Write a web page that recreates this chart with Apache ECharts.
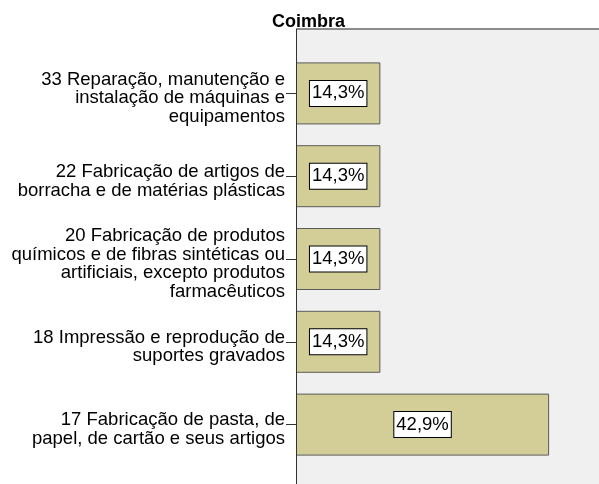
<!DOCTYPE html>
<html>
<head>
<meta charset="utf-8">
<script src="https://cdn.jsdelivr.net/npm/echarts@6/dist/echarts.min.js"></script>
<style>
  html, body { margin: 0; padding: 0; background: #fff; }
  #chart { width: 599px; height: 484px; }
</style>
</head>
<body>
<div id="chart"></div>
<script>
// categorias (de cima para baixo)
var categorias = [
  '33 Reparação, manutenção e\ninstalação de máquinas e\nequipamentos',
  '22 Fabricação de artigos de\nborracha e de matérias plásticas',
  '20 Fabricação de produtos\nquímicos e de fibras sintéticas ou\nartificiais, excepto produtos\nfarmacêuticos',
  '18 Impressão e reprodução de\nsuportes gravados',
  '17 Fabricação de pasta, de\npapel, de cartão e seus artigos'
];
var percentagens = [14.3, 14.3, 14.3, 14.3, 42.9];
var titulo = 'Coimbra';

var fonte = "'Liberation Sans', Arial, sans-serif";
var myChart = echarts.init(document.getElementById('chart'));

myChart.setOption({
  animation: false,
  title: {
    text: titulo,
    left: 272,
    top: 13,
    padding: 0,
    textStyle: { fontFamily: fonte, fontSize: 18, fontWeight: 'bold', color: '#000' },
    z: 10
  },
  // fundo da area do grafico (ultrapassa a imagem como no original)
  graphic: [
    { type: 'rect', z: -10, shape: { x: 296, y: 30, width: 310, height: 460 }, style: { fill: '#F0F0F0' } },
    { type: 'line', z: -5, shape: { x1: 296, y1: 29, x2: 599, y2: 29 }, style: { stroke: '#8c8c8c', lineWidth: 2 } },
    { type: 'line', z: 5, shape: { x1: 296.5, y1: 29, x2: 296.5, y2: 484 }, style: { stroke: '#333', lineWidth: 1 } }
  ],
  grid: [
    { left: 296, top: 52, right: 8, bottom: 18 },
    // grelha so para os rotulos, um pouco mais abaixo (como no SPSS)
    { left: 296, top: 57, right: 8, bottom: 13 }
  ],
  xAxis: [
    { type: 'value', gridIndex: 0, min: 0, max: 50, show: false },
    { type: 'value', gridIndex: 1, min: 0, max: 50, show: false }
  ],
  yAxis: [
    {
      type: 'category',
      gridIndex: 0,
      inverse: true,
      data: categorias,
      axisLine: { show: false },
      axisTick: { show: true, alignWithLabel: true, length: 10, lineStyle: { color: '#333' } },
      axisLabel: { show: false }
    },
    {
      type: 'category',
      gridIndex: 1,
      inverse: true,
      data: categorias,
      axisLine: { show: false },
      axisTick: { show: false },
      axisLabel: {
        margin: 11,
        fontFamily: fonte,
        fontSize: 18.5,
        lineHeight: 18.5,
        color: '#000',
        align: 'right'
      }
    }
  ],
  series: [{
    type: 'bar',
    xAxisIndex: 0,
    yAxisIndex: 0,
    data: percentagens,
    barWidth: 62,
    itemStyle: { color: '#D3CE97', borderColor: '#5a5a5a', borderWidth: 1 },
    label: {
      show: true,
      position: 'inside',
      formatter: function (p) { return p.value.toFixed(1).replace('.', ',') + '%'; },
      fontFamily: fonte,
      fontSize: 18.5,
      color: '#000',
      backgroundColor: '#fff',
      borderColor: '#000',
      borderWidth: 1,
      padding: [4, 2, 2, 2]
    }
  }]
});
</script>
</body>
</html>
